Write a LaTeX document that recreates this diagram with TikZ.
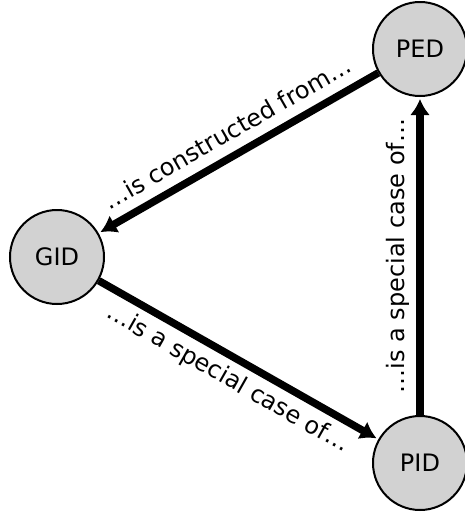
\documentclass[tikz,border=0pt]{standalone}
\usepackage{fontspec}
\setmainfont{DejaVu Sans}
\usetikzlibrary{arrows.meta}
\begin{document}
\begin{tikzpicture}[x=1pt,y=-1pt,
  ent/.style={circle, draw=black, line width=2pt, fill=gray!35, minimum size=94pt, inner sep=0pt, font=\fontsize{24}{28}\selectfont},
  rel/.style={line width=7.5pt, -{Latex[length=16pt,width=20pt]}, shorten >=2pt},
  lab/.style={font=\fontsize{24}{28}\selectfont, sloped, midway}]
\useasboundingbox (0,0) rectangle (464,512);
\node[ent] (GID) at (57,257) {GID};
\node[ent] (PED) at (420,49) {PED};
\node[ent] (PID) at (420,463) {PID};
\draw[rel] (PED) -- node[lab, above=7pt] {…is constructed from…} (GID);
\draw[rel] (GID) -- node[lab, below=3pt] {…is a special case of…} (PID);
\draw[rel] (PID) -- node[lab, above=3pt] {…is a special case of…} (PED);
\end{tikzpicture}
\end{document}
